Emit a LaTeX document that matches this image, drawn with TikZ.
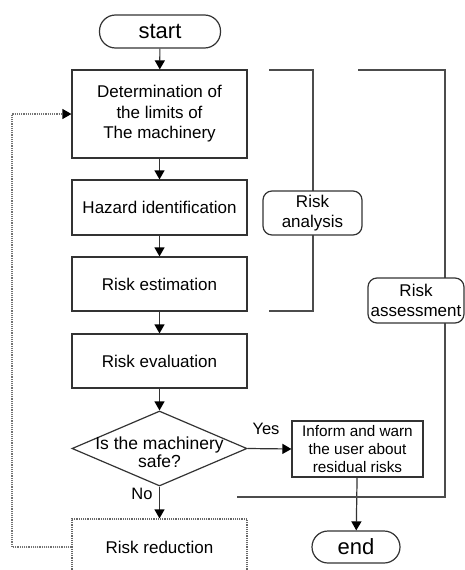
\documentclass[tikz,border=0pt]{standalone}
\usepackage{fontspec}
\setmainfont{Liberation Sans}
\usetikzlibrary{shapes.geometric,arrows.meta}
\begin{document}
\begin{tikzpicture}[x=1pt,y=-1pt,
  ln/.style={line width=1.2pt,draw=black!80},
  box/.style={ln,rectangle,minimum width=175pt,inner sep=2pt,align=center,font=\fontsize{17}{20.5}\selectfont},
  term/.style={ln,rectangle,rounded corners=16pt,inner sep=0pt,font=\fontsize{22}{26}\selectfont},
  lbl/.style={ln,rectangle,rounded corners=9pt,fill=white,inner sep=0pt,align=center,font=\fontsize{17}{20}\selectfont},
  arr/.style={ln,-{Triangle[width=10pt,length=9pt,color=black,fill=black]}},
  brk/.style={line width=1.2pt,draw=black!70}]
\clip (0,0) rectangle (465,570);
\fill[white] (0,0) rectangle (465,570);
\node[term,minimum width=121pt,minimum height=33pt] (start) at (160,31.5) {start};
\node[box,minimum height=88pt] (b1) at (159.5,114) {Determination of\\the limits of\\The machinery};
\node[box,minimum height=55pt] (b2) at (159.5,207.5) {Hazard identification};
\node[box,minimum height=54pt] (b3) at (159.5,284) {Risk estimation};
\node[box,minimum height=54pt] (b4) at (159.5,361) {Risk evaluation};
\node[ln,diamond,minimum width=175pt,minimum height=75pt,inner sep=0pt] (dia) at (159.5,448.5) {};
\node[align=center,inner sep=0pt,font=\fontsize{17.5}{17.5}\selectfont] (diat) at (159.5,452) {Is the machinery\\safe?};
\node[box,minimum width=131pt,minimum height=56pt,font=\fontsize{15.3}{18}\selectfont] (inf) at (357.5,449) {Inform and warn\\the user about\\residual risks};
\node[box,minimum height=56pt,draw=black!60,densely dotted] (rr) at (159.5,547) {Risk reduction};
\node[term,minimum width=88pt,minimum height=32pt] (end) at (356,547) {end};
\node[font=\fontsize{16.5}{19}\selectfont] (yes) at (266,429) {Yes};
\node[font=\fontsize{16.5}{19}\selectfont] (no) at (142,494) {No};
% connectors
\draw[arr] (start) -- (b1);
\draw[arr] (b1) -- (b2);
\draw[arr] (b2) -- (b3);
\draw[arr] (b3) -- (b4);
\draw[arr] (b4) -- (dia.north);
\draw[arr] (dia.east) -- (inf.west);
\draw[arr] (dia.south) -- (rr.north);
\draw[arr] (inf) -- (end);
\coordinate (fb) at (12,114);
\draw[line width=1.2pt,draw=black!55,densely dotted,-{Triangle[width=10pt,length=9pt,color=black,fill=black]}] (rr.west) -| (fb) -- (b1.west);
% brackets
\coordinate (ra1) at (269,70);
\coordinate (ra2) at (313,70);
\coordinate (ra3) at (313,311);
\coordinate (ra4) at (269,311);
\draw[brk] (ra1) -- (ra2) -- (ra3) -- (ra4);
\coordinate (rs1) at (358,70);
\coordinate (rs2) at (445,70);
\coordinate (rs3) at (445,497);
\coordinate (rs4) at (237,497);
\draw[brk] (rs1) -- (rs2) -- (rs3) -- (rs4);
\node[lbl,minimum width=99pt,minimum height=44pt] (la) at (312.5,213) {Risk\\analysis};
\node[lbl,minimum width=96pt,minimum height=45pt] (ls) at (416,300.5) {Risk\\assessment};
\end{tikzpicture}
\end{document}
